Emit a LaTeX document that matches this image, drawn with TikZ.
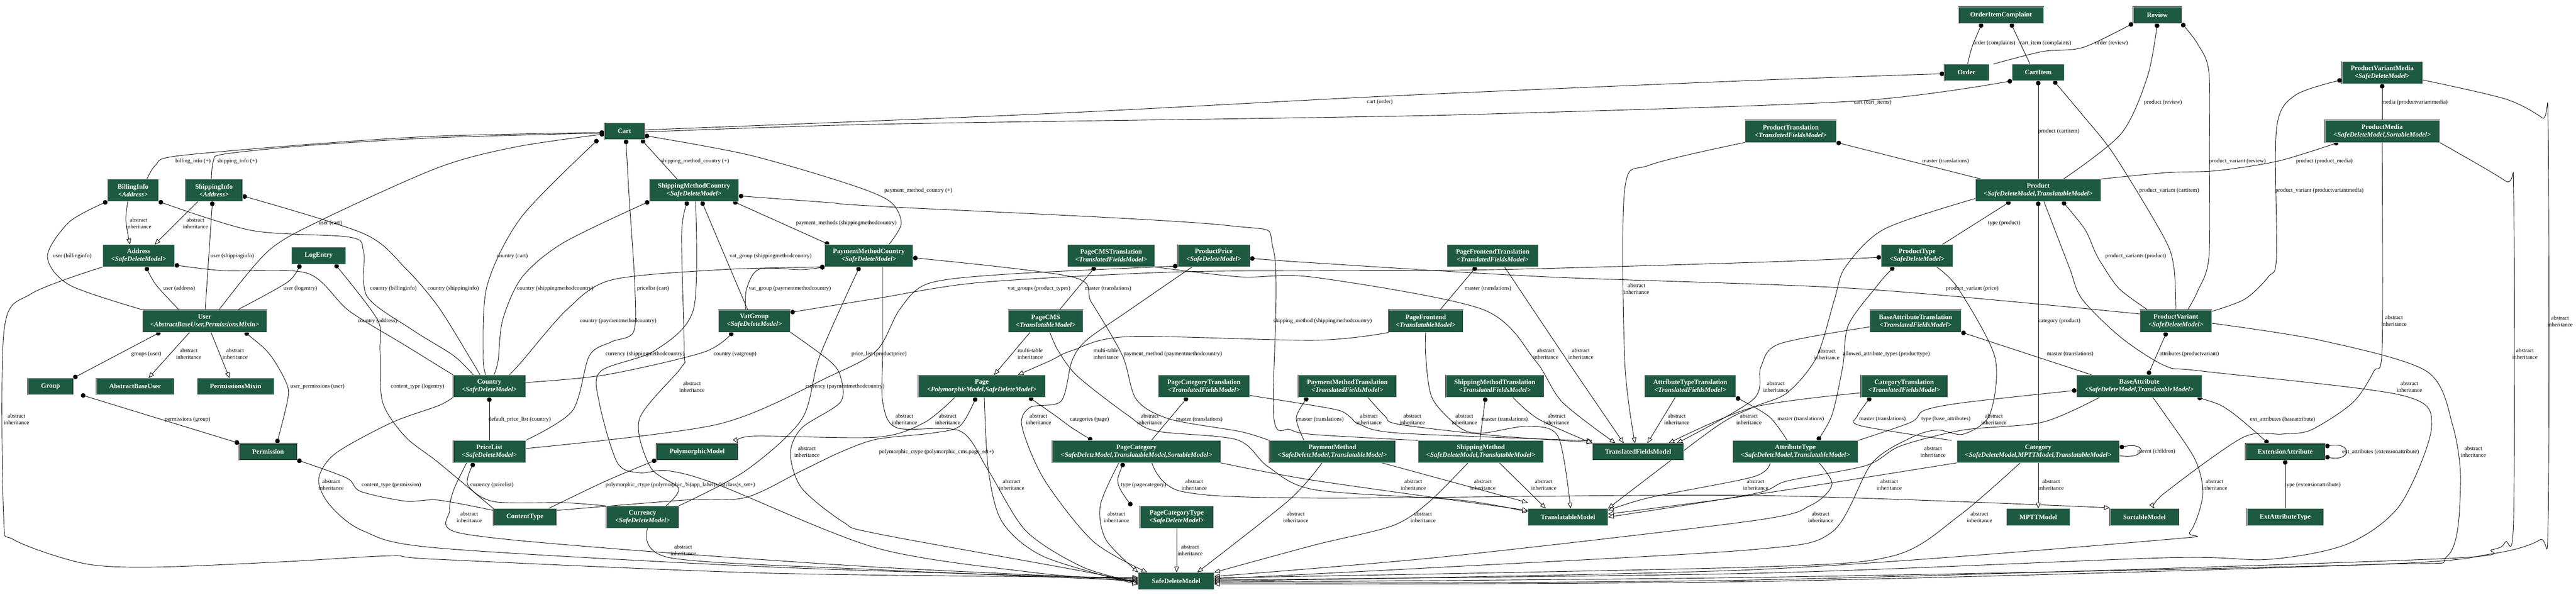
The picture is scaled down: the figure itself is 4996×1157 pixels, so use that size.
\documentclass[tikz,border=0pt]{standalone}
\usepackage{fontspec}
\setmainfont{Liberation Serif}
\usetikzlibrary{arrows.meta}
\definecolor{mgreen}{HTML}{1E5A42}
\pgfdeclarelayer{bg}
\pgfsetlayers{bg,main}
\newcommand\ttl[1]{{\bfseries #1}}
\newcommand\sbt[1]{{\bfseries\itshape <#1>}}
\newcommand\mfont{\fontsize{13}{15}\selectfont}
\newcommand\lfont{\fontsize{11}{12.5}\selectfont}
\newcommand\mnode[6]{\node[mbox,minimum width=#4pt,minimum height=#5pt] (#1) at (#2,#3) {#6};}
\newcommand\abslbl[3]{\node[lbl] (#1) at (#2,#3) {abstract\\inheritance};}
\newcommand\elbl[4]{\node[lbl] (#1) at (#2,#3) {#4};}
\tikzset{
 mbox/.style={draw=black!85, line width=0.5pt, double=gray!40, double distance=0.7pt, fill=mgreen, text=white, align=center, inner sep=1pt, font=\mfont},
 rel/.style={line width=0.9pt, -{Circle[length=9pt,width=9pt]}},
 rel2/.style={line width=0.9pt, {Circle[length=9pt,width=9pt]}-{Circle[length=9pt,width=9pt]}},
 inh/.style={line width=0.9pt, -{Triangle[length=11pt,width=9pt,fill=white]}},
 lbl/.style={font=\lfont, inner sep=0pt, align=center},
}
\begin{document}
\begin{tikzpicture}[x=1pt,y=-1pt]
\useasboundingbox (0,0) rectangle (4996,1157);
% ---------------- nodes ----------------
\mnode{oic}{3881}{29}{165}{32}{\ttl{OrderItemComplaint}}
\mnode{review}{4184}{29}{94}{32}{\ttl{Review}}
\mnode{order}{3814}{140.5}{86}{32}{\ttl{Order}}
\mnode{cartitem}{3953}{140.5}{101}{32}{\ttl{CartItem}}
\mnode{pvm}{4620}{141}{156}{43}{\ttl{ProductVariantMedia}\\\sbt{SafeDeleteModel}}
\mnode{cart}{1211}{254.5}{78}{32}{\ttl{Cart}}
\mnode{ptrans}{3473}{254.5}{177}{43}{\ttl{ProductTranslation}\\\sbt{TranslatedFieldsModel}}
\mnode{pmedia}{4620}{254.5}{222}{43}{\ttl{ProductMedia}\\\sbt{SafeDeleteModel,SortableModel}}
\mnode{billing}{258}{369}{99}{43}{\ttl{BillingInfo}\\\sbt{Address}}
\mnode{shipinfo}{415}{369}{110}{43}{\ttl{ShippingInfo}\\\sbt{Address}}
\mnode{smc}{1346}{369}{173}{43}{\ttl{ShippingMethodCountry}\\\sbt{SafeDeleteModel}}
\mnode{product}{3953}{369}{243}{43}{\ttl{Product}\\\sbt{SafeDeleteModel,TranslatableModel}}
\mnode{address}{269}{496}{139}{43}{\ttl{Address}\\\sbt{SafeDeleteModel}}
\mnode{logentry}{618}{496}{105}{33}{\ttl{LogEntry}}
\mnode{pmc}{1685}{496}{171}{43}{\ttl{PaymentMethodCountry}\\\sbt{SafeDeleteModel}}
\mnode{pcmst}{2155}{496}{169}{43}{\ttl{PageCMSTranslation}\\\sbt{TranslatedFieldsModel}}
\mnode{pprice}{2354}{496}{140}{43}{\ttl{ProductPrice}\\\sbt{SafeDeleteModel}}
\mnode{pft}{2895}{496}{177}{43}{\ttl{PageFrontendTranslation}\\\sbt{TranslatedFieldsModel}}
\mnode{ptype}{3718}{496}{139}{43}{\ttl{ProductType}\\\sbt{SafeDeleteModel}}
\mnode{user}{397}{622.5}{241}{43}{\ttl{User}\\\sbt{AbstractBaseUser,PermissionsMixin}}
\mnode{vat}{1463}{622.5}{139}{43}{\ttl{VatGroup}\\\sbt{SafeDeleteModel}}
\mnode{pcms}{2028}{622.5}{145}{43}{\ttl{PageCMS}\\\sbt{TranslatableModel}}
\mnode{pfront}{2765}{622.5}{144}{43}{\ttl{PageFrontend}\\\sbt{TranslatableModel}}
\mnode{bat}{3715}{622.5}{177}{43}{\ttl{BaseAttributeTranslation}\\\sbt{TranslatedFieldsModel}}
\mnode{pvar}{4220}{622.5}{139}{43}{\ttl{ProductVariant}\\\sbt{SafeDeleteModel}}
\mnode{group}{98}{749.5}{88}{32}{\ttl{Group}}
\mnode{abu}{262}{749.5}{150}{32}{\ttl{AbstractBaseUser}}
\mnode{pmix}{457}{749.5}{149}{32}{\ttl{PermissionsMixin}}
\mnode{country}{949}{749}{140}{43}{\ttl{Country}\\\sbt{SafeDeleteModel}}
\mnode{page}{1904}{749}{246}{43}{\ttl{Page}\\\sbt{PolymorphicModel,SafeDeleteModel}}
\mnode{pct}{2335}{749}{177}{43}{\ttl{PageCategoryTranslation}\\\sbt{TranslatedFieldsModel}}
\mnode{pmt}{2613}{749}{190}{43}{\ttl{PaymentMethodTranslation}\\\sbt{TranslatedFieldsModel}}
\mnode{smt}{2899}{749}{190}{43}{\ttl{ShippingMethodTranslation}\\\sbt{TranslatedFieldsModel}}
\mnode{att}{3278}{749}{177}{43}{\ttl{AttributeTypeTranslation}\\\sbt{TranslatedFieldsModel}}
\mnode{ct}{3693}{749}{168}{43}{\ttl{CategoryTranslation}\\\sbt{TranslatedFieldsModel}}
\mnode{battr}{4149}{749}{243}{43}{\ttl{BaseAttribute}\\\sbt{SafeDeleteModel,TranslatableModel}}
\mnode{perm}{520}{876}{112}{32}{\ttl{Permission}}
\mnode{pricelist}{949}{876}{140}{43}{\ttl{PriceList}\\\sbt{SafeDeleteModel}}
\mnode{poly}{1352}{876}{158}{32}{\ttl{PolymorphicModel}}
\mnode{pcat}{2204}{876}{326}{43}{\ttl{PageCategory}\\\sbt{SafeDeleteModel,TranslatableModel,SortableModel}}
\mnode{pm}{2584}{876}{244}{43}{\ttl{PaymentMethod}\\\sbt{SafeDeleteModel,TranslatableModel}}
\mnode{sm}{2872}{876}{243}{43}{\ttl{ShippingMethod}\\\sbt{SafeDeleteModel,TranslatableModel}}
\mnode{tfm}{3177}{876}{177}{32}{\ttl{TranslatedFieldsModel}}
\mnode{atype}{3482}{876}{243}{43}{\ttl{AttributeType}\\\sbt{SafeDeleteModel,TranslatableModel}}
\mnode{category}{3953}{876}{315}{43}{\ttl{Category}\\\sbt{SafeDeleteModel,MPTTModel,TranslatableModel}}
\mnode{extattr}{4432}{876}{154}{32}{\ttl{ExtensionAttribute}}
\mnode{contenttype}{1018}{1003}{122}{33}{\ttl{ContentType}}
\mnode{currency}{1246}{1003}{140}{43}{\ttl{Currency}\\\sbt{SafeDeleteModel}}
\mnode{pctype}{2282}{1003}{142}{43}{\ttl{PageCategoryType}\\\sbt{SafeDeleteModel}}
\mnode{tm}{3041}{1003}{155}{33}{\ttl{TranslatableModel}}
\mnode{mptt}{3953}{1003}{123}{33}{\ttl{MPTTModel}}
\mnode{sortable}{4159}{1003}{134}{33}{\ttl{SortableModel}}
\mnode{eat}{4432}{1003}{148}{33}{\ttl{ExtAttributeType}}
\mnode{sdm}{2281}{1127}{147}{33}{\ttl{SafeDeleteModel}}
% ---------------- edges ----------------
\begin{pgfonlayer}{bg}
\fill[white] (0,0) rectangle (4996,1157);
% relations
\draw[rel] plot[smooth] coordinates {(billing.north -| 285,0) (302,320) (340,303) (600,280) (850,264) (cart.west |- 0,257)};
\draw[rel] plot[smooth] coordinates {(shipinfo.north -| 410,0) (414,312) (434,299) (600,282) (850,267) (cart.west |- 0,258)};
\draw[rel] plot[smooth] coordinates {(user.north -| 425,0) (520,487) (623,427) (850,325) (1000,285) (cart.west |- 0,260)};
\draw[rel] plot[smooth] coordinates {(country.north -| 942,0) (937,690) (945,553) (1012,420) (cart.south -| 1160,0)};
\draw[rel] plot[smooth] coordinates {(pricelist.north east) (1110,797) (1143,690) (1186,663) (1229,643) (1231,550) (1220,380) (cart.south -| 1214,0)};
\draw[rel] (smc.north -| 1313,0) -- (cart.south -| 1244,0);
\draw[rel] plot[smooth] coordinates {(pmc.north -| 1724,0) (1748,433) (1725,390) (1640,355) (1450,300) (cart.east |- 0,263)};
\draw[rel] plot[smooth] coordinates {(cart.east |- 0,252) (2020,221) (2700,186) (3400,156) (order.west |- 0,143)};
\draw[rel] plot[smooth] coordinates {(cart.east |- 0,256) (1700,241) (2550,228) (2924,220) (3600,196) (cartitem.south west)};
\draw[rel] plot[smooth] coordinates {(order.north -| 3816,0) (3825,90) (oic.south -| 3844,0)};
\draw[rel] (cartitem.north -| 3937,0) -- (oic.south -| 3900,0);
\draw[rel] plot[smooth] coordinates {(order.north -| 3866,0) (3961,100) (4040,92) (review.south west)};
\draw[rel] plot[smooth] coordinates {(product.north -| 4002,0) (4114,259) (4165,148) (review.south)};
\draw[rel] plot[smooth] coordinates {(pvar.north -| 4243,0) (4262,565) (4284,499) (4285,300) (4284,140) (4262,85) (review.south east)};
\draw[rel] (product.north) -- (cartitem.south);
\draw[rel] plot[smooth] coordinates {(pvar.north -| 4220,0) (4216,518) (4196,459) (4100,300) (4038,222) (cartitem.south -| 3983,0)};
\draw[rel] (product.north -| 3842,0) -- (ptrans.south east);
\draw[rel] (ptype.north -| 3767,0) -- (product.south -| 3899,0);
\draw[rel] plot[smooth] coordinates {(product.north east) (4200,335) (4300,331) (4420,312) (pmedia.south -| 4535,0)};
\draw[rel] plot[smooth] coordinates {(pvar.north -| 4165,0) (4110,560) (4075,510) (4063,488) (4043,444) (product.south -| 4000,0)};
\draw[rel] (category.north) -- (product.south);
\draw[rel] (pmedia.north) -- (pvm.south);
\draw[rel] plot[smooth] coordinates {(pvar.east |- 0,604) (4354,580) (4400,536) (4415,499) (4415,251) (4451,185) (pvm.west |- 0,155)};
\draw[rel] plot[smooth] coordinates {(pvar.west |- 0,609) (3604,560) (3000,537) (2550,510) (pprice.east |- 0,501)};
\draw[rel2] plot[smooth] coordinates {(vat.east |- 0,606) (1700,579) (1900,548) (2264,528) (2550,525) (2900,523) (3400,509) (ptype.west |- 0,499)};
\draw[rel] plot[smooth] coordinates {(pricelist.east |- 0,870) (1392,823) (1609,730) (1700,680) (1745,600) (1800,550) (1950,532) (pprice.west |- 0,516)};
\draw[rel2] plot[smooth] coordinates {(ptype.south -| 3673,0) (3640,555) (3585,630) (3574,710) (3553,805) (atype.north -| 3525,0)};
\draw[rel] (battr.north -| 4057,0) -- (bat.south east);
\draw[rel] plot[smooth] coordinates {(category.north -| 3785,0) (3609,826) (3602,807) (ct.south -| 3628,0)};
\draw[rel] plot[smooth] coordinates {(atype.north east) (3706,819) (3732,796) (3808,781) (battr.west |- 0,757)};
\draw[rel] plot[smooth] coordinates {(atype.north -| 3466,0) (3431,808) (att.south east)};
\draw[rel2] (pvar.south -| 4202,0) -- (battr.north -| 4166,0);
\draw[{Circle[length=9pt,width=9pt]}-, line width=0.9pt] (category.east |- 0,868) .. controls (4165,856) and (4165,892) .. (category.east |- 0,884);
\draw[rel2] plot[smooth] coordinates {(battr.south -| 4262,0) (4323,796) (extattr.north -| 4399,0)};
\draw[rel2] (extattr.east |- 0,866) .. controls (4562,856) and (4562,896) .. (extattr.east |- 0,886);
\draw[rel] (eat.north) -- (extattr.south);
\draw[rel] (pcms.north -| 2055,0) -- (pcmst.south -| 2124,0);
\draw[rel] (pfront.north -| 2793,0) -- (pft.south -| 2863,0);
\draw[rel] (pcat.north -| 2233,0) -- (pct.south -| 2303,0);
\draw[rel] plot[smooth] coordinates {(pm.north -| 2529,0) (2514,810) (pmt.south -| 2536,0)};
\draw[rel] (sm.north -| 2870,0) -- (smt.south -| 2881,0);
\draw[rel2] plot[smooth] coordinates {(page.south -| 1996,0) (2052,810) (2079,830) (pcat.north -| 2118,0)};
\draw[rel2] plot[smooth] coordinates {(pcat.south -| 2179,0) (2169,940) (pctype.north -| 2195,0)};
\draw[rel] plot[smooth] coordinates {(contenttype.east |- 0,990) (1327,970) (1446,965) (1555,913) (1630,877) (1700,852) (1808,840) (1862,826) (page.south -| 1893,0)};
\draw[rel] plot[smooth] coordinates {(contenttype.north -| 1064,0) (1175,933) (poly.south west)};
\draw[rel] plot[smooth] coordinates {(pm.north west) (2405,837) (2269,813) (2204,775) (2177,690) (2117,587) (2079,537) (pmc.east |- 0,500)};
\draw[rel] plot[smooth] coordinates {(sm.north west) (2550,843) (2502,833) (2470,806) (2470,486) (2377,437) (1700,400) (1609,393) (smc.east |- 0,380)};
\draw[rel] (vat.north -| 1450,0) -- (smc.south -| 1361,0);
\draw[rel] plot[smooth] coordinates {(vat.north -| 1446,0) (1448,560) (1473,522) (1555,523) (pmc.south west)};
\draw[rel2] (smc.south -| 1422,0) -- (pmc.north -| 1608,0);
\draw[rel] plot[smooth] coordinates {(country.north -| 958,0) (966,700) (975,620) (1013,537) (1094,470) (smc.south west)};
\draw[rel] plot[smooth] coordinates {(currency.north -| 1292,0) (1316,947) (1262,907) (1240,813) (1321,713) (1327,680) (1322,453) (smc.south -| 1334,0)};
\draw[rel] plot[smooth] coordinates {(country.north -| 988,0) (1013,700) (1100,600) (1186,543) (1400,523) (pmc.south west)};
\draw[rel] plot[smooth] coordinates {(currency.north east) (1446,913) (1555,813) (1590,690) (pmc.south -| 1667,0)};
\draw[rel] (pricelist.north) -- (country.south);
\draw[rel] plot[smooth] coordinates {(currency.north west) (1094,975) (958,973) (907,940) (pricelist.south -| 919,0)};
\draw[rel] plot[smooth] coordinates {(country.east |- 0,742) (1175,727) (1365,683) (vat.south -| 1421,0)};
\draw[rel] plot[smooth] coordinates {(country.north -| 918,0) (880,690) (800,640) (712,575) (705,487) (678,460) (488,447) (billing.south east)};
\draw[rel] plot[smooth] coordinates {(country.north -| 931,0) (915,700) (850,595) (786,520) (705,453) (shipinfo.east |- 0,380)};
\draw[rel] plot[smooth] coordinates {(country.north west) (786,670) (677,603) (596,530) (434,525) (address.east |- 0,514)};
\draw[rel] plot[smooth] coordinates {(user.north west) (135,553) (92,497) (135,430) (billing.south west)};
\draw[rel] (user.north -| 398,0) -- (shipinfo.south -| 412,0);
\draw[rel] plot[smooth] coordinates {(user.north -| 347,0) (303,553) (address.south -| 283,0)};
\draw[rel] plot[smooth] coordinates {(user.north -| 461,0) (558,547) (logentry.south -| 582,0)};
\draw[rel] plot[smooth] coordinates {(contenttype.north west) (850,897) (786,847) (742,780) (737,680) (732,620) (logentry.south -| 650,0)};
\draw[rel] plot[smooth] coordinates {(contenttype.west |- 0,990) (850,970) (786,972) (699,953) (672,927) (perm.south east)};
\draw[rel2] (user.south -| 311,0) -- (group.north east);
\draw[rel2] plot[smooth] coordinates {(user.south -| 475,0) (525,690) (557,747) (557,780) (perm.north -| 537,0)};
\draw[rel2] (group.south -| 157,0) -- (perm.north west);
% inheritance
\draw[inh] plot[smooth] coordinates {(billing.south -| 248,0) (244,427) (address.north -| 252,0)};
\draw[inh] (shipinfo.south -| 384,0) -- (address.north -| 300,0);
\draw[inh] plot[smooth] coordinates {(address.south west) (60,570) (8,640) (7,1000) (27,1047) (163,1093) (298,1100) (542,1090) (759,1078) (850,1085) (1500,1112) (sdm.west |- 0,1120)};
\draw[inh] (user.south -| 368,0) -- (abu.north -| 288,0);
\draw[inh] (user.south -| 409,0) -- (pmix.north -| 445,0);
\draw[inh] plot[smooth] coordinates {(country.south west) (850,787) (759,820) (650,880) (618,930) (640,980) (705,1030) (850,1063) (1500,1100) (sdm.west |- 0,1122)};
\draw[inh] plot[smooth] coordinates {(pricelist.south -| 905,0) (880,950) (872,990) (888,1033) (1175,1063) (1700,1100) (sdm.west |- 0,1124)};
\draw[inh] plot[smooth] coordinates {(currency.south -| 1256,0) (1300,1082) (1700,1105) (sdm.west |- 0,1126)};
\draw[inh] plot[smooth] coordinates {(smc.south -| 1349,0) (1345,600) (1270,680) (1165,720) (1162,780) (1197,897) (1240,917) (1295,913) (1392,940) (1700,1063) (2000,1110) (sdm.west |- 0,1128)};
\draw[inh] plot[smooth] coordinates {(pmc.south -| 1712,0) (1712,680) (1712,780) (1740,830) (1862,836) (1917,913) (1990,1030) (2100,1100) (sdm.west |- 0,1130)};
\draw[inh] plot[smooth] coordinates {(vat.south east) (1609,700) (1630,730) (1630,780) (1555,830) (1533,880) (1555,947) (1636,1013) (1700,1035) (2100,1108) (sdm.west |- 0,1132)};
\draw[inh] plot[smooth] coordinates {(page.south -| 1852,0) (1792,820) (1700,848) (1460,846) (poly.north east)};
\draw[inh] plot[smooth] coordinates {(page.south -| 1909,0) (1917,913) (1944,1013) (2025,1080) (sdm.west |- 0,1134)};
\draw[inh] (pcms.south -| 1998,0) -- (page.north -| 1928,0);
\draw[inh] plot[smooth] coordinates {(pfront.west |- 0,645) (2550,660) (2188,653) (2079,680) (2036,700) (page.north -| 1974,0)};
\draw[inh] plot[smooth] coordinates {(pprice.south -| 2312,0) (2188,603) (2107,660) (2079,700) (2058,778) (1998,790) (1982,827) (2025,930) (2120,1050) (sdm.north -| 2225,0)};
\draw[inh] plot[smooth] coordinates {(pcms.south -| 2036,0) (2052,680) (2090,730) (2188,806) (2242,836) (2399,853) (2459,905) (2550,950) (2832,970) (tm.west |- 0,993)};
\draw[inh] plot[smooth] coordinates {(pfront.south) (2765,690) (2778,773) (2832,830) (2875,840) (2962,827) (3022,847) (tm.north -| 3046,0)};
\draw[inh] plot[smooth] coordinates {(pcmst.south east) (2405,537) (2550,538) (2875,600) (2978,700) (3030,780) (tfm.north -| 3133,0)};
\draw[inh] plot[smooth] coordinates {(pft.south -| 2918,0) (3040,700) (tfm.north -| 3149,0)};
\draw[inh] plot[smooth] coordinates {(ptrans.south west) (3200,320) (3151,367) (3151,700) (tfm.north -| 3171,0)};
\draw[inh] plot[smooth] coordinates {(pct.east |- 0,767) (2550,787) (2600,797) (2620,810) (2637,823) (2713,840) (tfm.west |- 0,855)};
\draw[inh] plot[smooth] coordinates {(pmt.south -| 2653,0) (2686,807) (2713,823) (2900,845) (tfm.west |- 0,858)};
\draw[inh] plot[smooth] coordinates {(smt.south -| 2934,0) (2984,813) (tfm.north west)};
\draw[inh] (att.south -| 3249,0) -- (tfm.north -| 3195,0);
\draw[inh] plot[smooth] coordinates {(bat.west |- 0,634) (3451,667) (3415,712) (3400,775) (tfm.north -| 3252,0)};
\draw[inh] plot[smooth] coordinates {(ct.west |- 0,762) (3400,790) (tfm.north -| 3236,0)};
\draw[inh] plot[smooth] coordinates {(pcat.south -| 2170,0) (2134,980) (2145,1047) (sdm.north west)};
\draw[inh] plot[smooth] coordinates {(pcat.south east) (2550,932) (tm.west |- 0,990)};
\draw[inh] plot[smooth] coordinates {(pcat.south -| 2234,0) (2291,953) (2550,966) (3400,961) (sortable.west |- 0,985)};
\draw[inh] (pctype.south) -- (sdm.north -| 2282,0);
\draw[inh] plot[smooth] coordinates {(pm.south -| 2564,0) (2500,970) (sdm.north -| 2322,0)};
\draw[inh] (pm.south -| 2680,0) -- (tm.west |- 0,975);
\draw[inh] (sm.south -| 2908,0) -- (tm.north -| 2998,0);
\draw[inh] plot[smooth] coordinates {(sm.south -| 2847,0) (2770,975) (2700,1020) (2550,1057) (sdm.north east)};
\draw[inh] plot[smooth] coordinates {(atype.south -| 3433,0) (3400,925) (3200,965) (tm.east |- 0,990)};
\draw[inh] plot[smooth] coordinates {(atype.south -| 3528,0) (3553,940) (3512,980) (3400,1010) (2800,1080) (sdm.east |- 0,1118)};
\draw[inh] (category.south) -- (mptt.north);
\draw[inh] plot[smooth] coordinates {(category.south west) (3400,960) (tm.east |- 0,997)};
\draw[inh] plot[smooth] coordinates {(category.south -| 3918,0) (3800,1000) (3672,1078) (3400,1100) (sdm.east |- 0,1121)};
\draw[inh] plot[smooth] coordinates {(ptype.south -| 3756,0) (3798,560) (3869,693) (3859,804) (3808,842) (3757,834) (3706,849) (3630,899) (3553,1032) (3400,1066) (2800,1100) (sdm.east |- 0,1123)};
\draw[inh] plot[smooth] coordinates {(product.west |- 0,385) (3655,444) (3579,518) (3558,580) (3523,693) (3466,762) (3400,790) (3325,830) (tm.north east)};
\draw[inh] plot[smooth] coordinates {(product.south -| 3964,0) (4013,518) (4038,580) (4114,655) (4200,710) (4272,720) (4655,766) (4716,826) (4655,979) (4553,1055) (4400,1085) (4196,1082) (3400,1112) (sdm.east |- 0,1125)};
\draw[inh] plot[smooth] coordinates {(battr.south -| 4072,0) (3961,819) (3808,834) (3686,865) (3619,903) (3466,933) (3400,958) (tm.east |- 0,1003)};
\draw[inh] plot[smooth] coordinates {(battr.south -| 4175,0) (4196,800) (4257,891) (4272,960) (4247,1032) (4196,1047) (3400,1105) (sdm.east |- 0,1127)};
\draw[inh] plot[smooth] coordinates {(pvar.east |- 0,627) (4500,660) (4706,720) (4757,826) (4772,941) (4747,1078) (4600,1095) (3400,1120) (sdm.east |- 0,1129)};
\draw[inh] plot[smooth] coordinates {(pmedia.south) (4620,674) (4604,720) (4563,781) (4482,834) (4426,842) (4349,849) (4196,958) (sortable.north -| 4178,0)};
\draw[inh] plot[smooth] coordinates {(pmedia.south east) (4859,351) (4875,380) (4875,1005) (4859,1051) (4834,1066) (4706,1085) (3400,1125) (sdm.east |- 0,1131)};
\draw[inh] plot[smooth] coordinates {(pvm.east |- 0,155) (4859,192) (4931,229) (4942,252) (4942,1005) (4926,1047) (4834,1074) (4600,1095) (3400,1128) (sdm.east |- 0,1133)};
\end{pgfonlayer}
% ---------------- labels ----------------
\elbl{l1}{374.5}{312.7}{billing\_info (+)}
\elbl{l2}{460}{312.7}{shipping\_info (+)}
\elbl{l3}{640.5}{432.7}{user (cart)}
\elbl{l4}{993.5}{496.7}{country (cart)}
\elbl{l5}{1266.5}{560}{pricelist (cart)}
\elbl{l6}{1348}{312.7}{shipping\_method\_country (+)}
\elbl{l7}{1781}{370}{payment\_method\_country (+)}
\elbl{l8}{2676}{198}{cart (order)}
\elbl{l9}{3632}{198.6}{cart (cart\_items)}
\elbl{l10}{3868}{83.6}{order (complaints)}
\elbl{l11}{3967}{83.6}{cart\_item (complaints)}
\elbl{l12}{4095}{83.6}{order (review)}
\elbl{l13}{4195}{198.6}{product (review)}
\elbl{l14}{4339.5}{312.6}{product\_variant (review)}
\elbl{l15}{3993}{255.2}{product (cartitem)}
\elbl{l16}{4207}{370}{product\_variant (cartitem)}
\elbl{l17}{3773.5}{312.6}{master (translations)}
\elbl{l18}{3887}{432.8}{type (product)}
\elbl{l19}{4508}{312.6}{product (product\_media)}
\elbl{l20}{4142}{496.4}{product\_variants (product)}
\elbl{l21}{3994}{622.8}{category (product)}
\elbl{l22}{4683}{198.6}{media (productvariantmedia)}
\elbl{l23}{4498.5}{370}{product\_variant (productvariantmedia)}
\elbl{l24}{3825}{559.7}{product\_variant (price)}
\elbl{l25}{2015}{560}{vat\_groups (product\_types)}
\elbl{l26}{1705}{686.7}{price\_list (productprice)}
\elbl{l27}{3658.5}{686.4}{allowed\_attribute\_types (producttype)}
\elbl{l28}{4015}{686.4}{master (translations)}
\elbl{l29}{3651}{813}{master (translations)}
\elbl{l30}{3774}{813}{type (base\_attributes)}
\elbl{l31}{3492.5}{813}{master (translations)}
\elbl{l32}{4246}{686.4}{attributes (productvariant)}
\elbl{l33}{4182}{876}{parent (children)}
\elbl{l34}{4427}{813.6}{ext\_attributes (baseattribute)}
\elbl{l35}{4617}{876.4}{ext\_attributes (extensionattribute)}
\elbl{l36}{4485.5}{940.7}{type (extensionattribute)}
\elbl{l37}{2149}{560}{master (translations)}
\elbl{l38}{2886}{560}{master (translations)}
\elbl{l39}{2326}{813.7}{master (translations)}
\elbl{l40}{2561}{813.7}{master (translations)}
\elbl{l41}{2918}{813.7}{master (translations)}
\elbl{l42}{2113}{813.7}{categories (page)}
\elbl{l43}{2218}{941}{type (pagecategory)}
\elbl{l44}{1816}{877}{polymorphic\_ctype (polymorphic\_cms.page\_set+)}
\elbl{l45}{1319.5}{941}{polymorphic\_ctype (polymorphic\_\%(app\_label)s.\%(class)s\_set+)}
\elbl{l46}{2274.5}{686.7}{payment\_method (paymentmethodcountry)}
\elbl{l47}{2565}{622.7}{shipping\_method (shippingmethodcountry)}
\elbl{l48}{1494.5}{496.7}{vat\_group (shippingmethodcountry)}
\elbl{l49}{1532}{560}{vat\_group (paymentmethodcountry)}
\elbl{l50}{1641.5}{432.7}{payment\_methods (shippingmethodcountry)}
\elbl{l51}{1077}{560}{country (shippingmethodcountry)}
\elbl{l52}{1251}{686.7}{currency (shippingmethodcountry)}
\elbl{l53}{1199}{622.7}{country (paymentmethodcountry)}
\elbl{l54}{1639}{750}{currency (paymentmethodcountry)}
\elbl{l55}{1008}{813.7}{default\_price\_list (country)}
\elbl{l56}{954}{941}{currency (pricelist)}
\elbl{l57}{1425.5}{686.7}{country (vatgroup)}
\elbl{l58}{763}{560}{country (billinginfo)}
\elbl{l59}{879}{560}{country (shippinginfo)}
\elbl{l60}{732}{622.7}{country (address)}
\elbl{l61}{140}{496.7}{user (billinginfo)}
\elbl{l62}{450.5}{496.7}{user (shippinginfo)}
\elbl{l63}{347.5}{560}{user (address)}
\elbl{l64}{582.5}{560}{user (logentry)}
\elbl{l65}{810}{749.7}{content\_type (logentry)}
\elbl{l66}{759}{941}{content\_type (permission)}
\elbl{l67}{283.7}{686.7}{groups (user)}
\elbl{l68}{615.7}{749.7}{user\_permissions (user)}
\elbl{l69}{363.7}{813.7}{permissions (group)}
\abslbl{a1}{269}{433}
\abslbl{a2}{379}{433}
\abslbl{a3}{32}{813}
\abslbl{a4}{366}{686}
\abslbl{a5}{456}{686}
\abslbl{a6}{642}{940}
\abslbl{a7}{910}{1003}
\abslbl{a8}{1325}{1067}
\abslbl{a9}{1342}{750}
\abslbl{a10}{1754}{813}
\abslbl{a11}{1565}{876}
\abslbl{a12}{1838}{813}
\abslbl{a13}{1962}{940}
\node[lbl] (a14) at (1998,686) {multi-table\\inheritance};
\node[lbl] (a14b) at (2145,686) {multi-table\\inheritance};
\abslbl{a15}{2014}{813}
\abslbl{a16}{2230}{813}
\abslbl{a17}{2840}{813}
\abslbl{a18}{2998}{686}
\abslbl{a19}{3066}{686}
\abslbl{a20}{3174}{560}
\abslbl{a21}{2655}{813}
\abslbl{a22}{2739}{813}
\abslbl{a23}{3019}{813}
\abslbl{a24}{3252}{813}
\abslbl{a25}{3444}{750}
\abslbl{a26}{3392}{813}
\abslbl{a27}{2165}{1003}
\abslbl{a28}{2741}{940}
\abslbl{a29}{2316}{940}
\abslbl{a30}{2308}{1067}
\abslbl{a31}{2513}{1003}
\abslbl{a32}{2876}{940}
\abslbl{a33}{2994}{940}
\abslbl{a34}{2760}{1003}
\abslbl{a35}{3405}{940}
\abslbl{a36}{3531}{1003}
\abslbl{a37}{3978}{940}
\abslbl{a38}{3664}{940}
\abslbl{a39}{3839}{1003}
\abslbl{a40}{3867}{813}
\abslbl{a41}{3543}{687}
\abslbl{a42}{4673}{750}
\abslbl{a43}{3749}{876}
\abslbl{a44}{4295}{940}
\abslbl{a45}{4797}{876}
\abslbl{a46}{4643}{622}
\abslbl{a47}{4897}{686}
\abslbl{a48}{4965}{623}
\end{tikzpicture}
\end{document}
